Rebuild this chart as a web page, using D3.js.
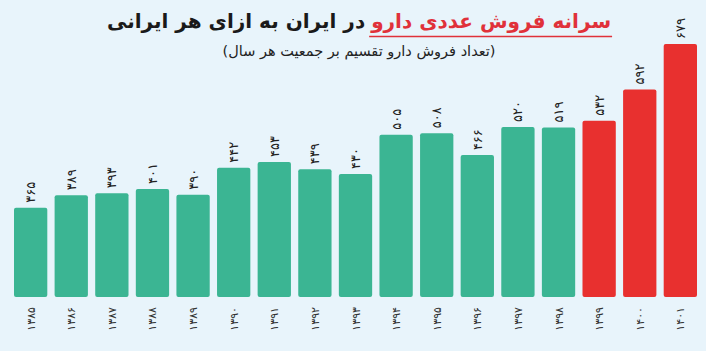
<!DOCTYPE html>
<html>
<head>
<meta charset="utf-8">
<script src="https://cdn.jsdelivr.net/npm/d3@7"></script>
<style>
  html, body { margin: 0; padding: 0; background: #e8f4fb; }
  svg { display: block; font-family: "DejaVu Sans", "Noto Sans", sans-serif; }
  .title { font-size: 20px; font-weight: bold; }
  .subtitle { font-size: 14.5px; fill: #222; }
  .val { font-size: 13px; fill: #222; }
  .year { font-size: 11px; fill: #333; }
</style>
</head>
<body>
<svg id="chart" width="706" height="351"></svg>
<script>
// data
let years  = ["1385", "1386", "1387", "1388", "1389", "1390", "1391", "1392", "1393",
              "1394", "1395", "1396", "1397", "1398", "1399", "1400", "1401"];
let values = [365, 389, 393, 401, 390, 442, 453, 439, 430, 505, 508, 466, 520, 519, 532, 592, 679];
let highlight = ["1399", "1400", "1401"];

let title_red   = "سرانه فروش عددی دارو";
let title_black = "در ایران به ازای هر ایرانی";
let subtitle    = "(تعداد فروش دارو تقسیم بر جمعیت هر سال)";

let svg = d3.select("#chart");
let margin = {left: 14, right: 9, top: 44, baseline: 297};

let x = d3.scaleBand().domain(years).range([margin.left, 706 - margin.right]).paddingInner(0.18).paddingOuter(0);
let y = d3.scaleLinear().domain([194, 679]).range([margin.baseline, margin.top]);

function fa(s) {
    return String(s).replace(/[0-9]/g, (d) => "۰۱۲۳۴۵۶۷۸۹"[+d]);
}

// bars
svg.selectAll("rect.bar")
    .data(years).enter()
    .append("rect")
    .classed("bar", true)
    .attr("x", (d) => x(d))
    .attr("y", (d, i) => y(values[i]))
    .attr("width", x.bandwidth())
    .attr("height", (d, i) => margin.baseline - y(values[i]))
    .attr("rx", 2)
    .attr("fill", (d) => highlight.includes(d) ? "#e8302f" : "#3bb593");

// value labels (rotated)
svg.selectAll("text.val")
    .data(years).enter()
    .append("text")
    .classed("val", true)
    .attr("transform", (d, i) => `translate(${x(d) + x.bandwidth() / 2 + 4.5}, ${y(values[i]) - 5}) rotate(-90)`)
    .attr("text-anchor", "start")
    .text((d, i) => fa(values[i]));

// year labels (rotated)
svg.selectAll("text.year")
    .data(years).enter()
    .append("text")
    .classed("year", true)
    .attr("transform", (d) => `translate(${x(d) + x.bandwidth() / 2 + 4}, 307) rotate(-90)`)
    .attr("text-anchor", "end")
    .text((d) => fa(d));

// title
let t_red = svg.append("text").classed("title", true).attr("fill", "#e0313a").attr("y", 28).text(title_red);
let t_blk = svg.append("text").classed("title", true).attr("fill", "#1a1a1a").attr("y", 28).text(title_black);
let w_red = t_red.node().getComputedTextLength(),
    w_blk = t_blk.node().getComputedTextLength(),
    gap = 6,
    cx = 359,
    right = cx + (w_red + w_blk + gap) / 2;
t_red.attr("text-anchor", "end").attr("x", right);
t_blk.attr("text-anchor", "end").attr("x", right - w_red - gap);

svg.append("line")
    .attr("x1", right - w_red - 2)
    .attr("x2", right + 1)
    .attr("y1", 36.5)
    .attr("y2", 36.5)
    .attr("stroke", "#e0313a")
    .attr("stroke-width", 1.5);

svg.append("text")
    .classed("subtitle", true)
    .attr("x", cx)
    .attr("y", 56)
    .attr("text-anchor", "middle")
    .text(subtitle);
</script>
</body>
</html>
